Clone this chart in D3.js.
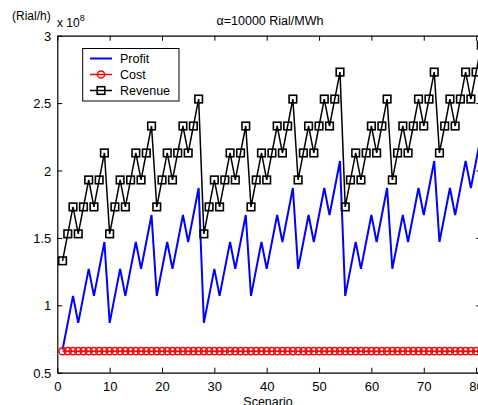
<!DOCTYPE html>
<html><head><meta charset="utf-8">
<script src="https://cdn.jsdelivr.net/npm/d3@7"></script>
<style>body{margin:0;background:#fff}svg{display:block}text{font-family:"Liberation Sans",Arial,sans-serif;}</style>
</head><body><svg id="c" width="478" height="405"></svg>
<script>
const scenarios = d3.range(1, 82);
const revenue = [
 1.33,1.53,1.73,1.53,1.73,1.93,1.73,1.93,2.13,
 1.53,1.73,1.93,1.73,1.93,2.13,1.93,2.13,2.33,
 1.73,1.93,2.13,1.93,2.13,2.33,2.13,2.33,2.53,
 1.53,1.73,1.93,1.73,1.93,2.13,1.93,2.13,2.33,
 1.73,1.93,2.13,1.93,2.13,2.33,2.13,2.33,2.53,
 1.93,2.13,2.33,2.13,2.33,2.53,2.33,2.53,2.73,
 1.73,1.93,2.13,1.93,2.13,2.33,2.13,2.33,2.53,
 1.93,2.13,2.33,2.13,2.33,2.53,2.33,2.53,2.73,
 2.13,2.33,2.53,2.33,2.53,2.73,2.53,2.73,2.93];
const profit = [
 0.67,0.87,1.07,0.87,1.07,1.27,1.07,1.27,1.47,
 0.87,1.07,1.27,1.07,1.27,1.47,1.27,1.47,1.67,
 1.07,1.27,1.47,1.27,1.47,1.67,1.47,1.67,1.87,
 0.87,1.07,1.27,1.07,1.27,1.47,1.27,1.47,1.67,
 1.07,1.27,1.47,1.27,1.47,1.67,1.47,1.67,1.87,
 1.27,1.47,1.67,1.47,1.67,1.87,1.67,1.87,2.07,
 1.07,1.27,1.47,1.27,1.47,1.67,1.47,1.67,1.87,
 1.27,1.47,1.67,1.47,1.67,1.87,1.67,1.87,2.07,
 1.47,1.67,1.87,1.67,1.87,2.07,1.87,2.07,2.27];
const cost = scenarios.map(() => 0.66);
const xTicks = [0,10,20,30,40,50,60,70,80];
const yTicks = [0.5,1,1.5,2,2.5,3];
const titleText = "=10000 Rial/MWh";

const svg = d3.select("#c");
const L = 57.3, T = 35.7, B = 372.7;
const x = d3.scaleLinear().domain([0, 81]).range([L, L + 81*5.235]);
const y = d3.scaleLinear().domain([0.5, 3]).range([B, T]);
const R = x(81);

// axes
const xb = svg.append("g").attr("transform", `translate(0,${B})`)
  .call(d3.axisBottom(x).tickValues(xTicks).tickSizeInner(-5).tickSizeOuter(0).tickPadding(9));
const xt = svg.append("g").attr("transform", `translate(0,${T})`)
  .call(d3.axisTop(x).tickValues(xTicks).tickSizeInner(-5).tickSizeOuter(0).tickFormat(""));
const yl = svg.append("g").attr("transform", `translate(${L},0)`)
  .call(d3.axisLeft(y).tickValues(yTicks).tickSizeInner(-5).tickSizeOuter(0).tickPadding(6).tickFormat(d3.format("")));
const yr = svg.append("g").attr("transform", `translate(${R},0)`)
  .call(d3.axisRight(y).tickValues(yTicks).tickSizeInner(-5).tickSizeOuter(0).tickFormat(""));
[xb,xt,yl,yr].forEach(g => {
  g.selectAll("path").attr("stroke","#000").attr("stroke-width",1.2);
  g.selectAll("line").attr("stroke","#000").attr("stroke-width",1);
  g.selectAll("text").attr("font-size",13).attr("fill","#000")
   .style("font-family","'Liberation Sans',Arial,sans-serif");
});
yl.selectAll("text").attr("dy","0.35em");

const line = d3.line().x((d,i)=>x(scenarios[i])).y(d=>y(d));
const plot = svg.append("g");
plot.append("path").datum(profit).attr("d", line).attr("fill","none").attr("stroke","#0000ff").attr("stroke-width",2);
plot.append("path").datum(cost).attr("d", line).attr("fill","none").attr("stroke","#ff0000").attr("stroke-width",1.5);
plot.selectAll("circle.c").data(cost).enter().append("circle")
  .attr("cx",(d,i)=>x(scenarios[i])).attr("cy",d=>y(d)).attr("r",3.6)
  .attr("fill","none").attr("stroke","#ff0000").attr("stroke-width",1.5);
plot.append("path").datum(revenue).attr("d", line).attr("fill","none").attr("stroke","#000").attr("stroke-width",1.5);
plot.selectAll("rect.r").data(revenue).enter().append("rect")
  .attr("x",(d,i)=>x(scenarios[i])-3.8).attr("y",d=>y(d)-3.8).attr("width",7.6).attr("height",7.6)
  .attr("fill","none").attr("stroke","#000").attr("stroke-width",1.6);

// legend
const lg = svg.append("g");
lg.append("rect").attr("x",82.7).attr("y",48.5).attr("width",96.3).attr("height",52.5)
  .attr("fill","#fff").attr("stroke","#000").attr("stroke-width",1);
const items = [
  {name:"Profit", color:"#0000ff", m:null, w:2},
  {name:"Cost", color:"#ff0000", m:"circle", w:1.5},
  {name:"Revenue", color:"#000", m:"square", w:1.5}];
items.forEach((it,i)=>{
  const yy = 58.5 + i*16;
  lg.append("line").attr("x1",90).attr("x2",112).attr("y1",yy).attr("y2",yy).attr("stroke",it.color).attr("stroke-width",it.w);
  if (it.m==="circle") lg.append("circle").attr("cx",101).attr("cy",yy).attr("r",3.6).attr("fill","none").attr("stroke",it.color).attr("stroke-width",1.5);
  if (it.m==="square") lg.append("rect").attr("x",97.2).attr("y",yy-3.8).attr("width",7.6).attr("height",7.6).attr("fill","none").attr("stroke",it.color).attr("stroke-width",1.6);
  lg.append("text").attr("x",120).attr("y",yy+4.5).attr("font-size",12.5).text(it.name);
});

// labels
svg.append("text").attr("x",12).attr("y",20).attr("font-size",12).text("(Rial/h)");
const ex = svg.append("text").attr("x",57).attr("y",27).attr("font-size",12);
ex.append("tspan").text("x 10");
ex.append("tspan").attr("font-size",9).attr("dy",-6).text("8");
const tt = svg.append("text").attr("x",270).attr("y",25).attr("text-anchor","middle").attr("font-size",12.5);
tt.append("tspan").text("α");
tt.append("tspan").text(titleText);
svg.append("text").attr("x",268).attr("y",406).attr("text-anchor","middle").attr("font-size",12.5).text("Scenario");
</script></body></html>
